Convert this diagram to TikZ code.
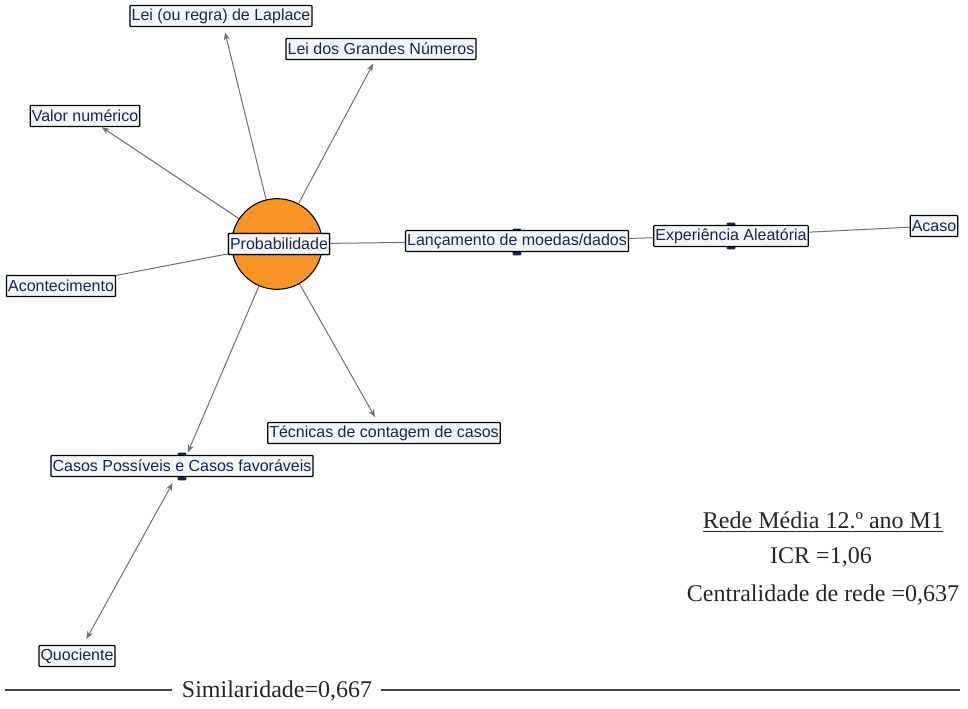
\documentclass[tikz,border=0pt]{standalone}
\usepackage{fontspec}
\setmainfont{Liberation Serif}
\newfontfamily\labelfont{Liberation Sans}
\usetikzlibrary{arrows.meta}
\definecolor{edgegray}{RGB}{112,112,112}
\definecolor{boxfill}{RGB}{242,246,246}
\definecolor{boxtext}{RGB}{28,38,70}
\definecolor{hub}{RGB}{247,148,35}
\definecolor{handle}{RGB}{25,35,60}
\definecolor{rulegray}{RGB}{70,70,70}
\begin{document}
\begin{tikzpicture}[x=0.75pt,y=-0.75pt,
  concept/.style={draw=black, line width=0.9pt, fill=boxfill, text=boxtext,
    font=\labelfont\fontsize{12}{14}\selectfont, inner xsep=1.2pt, inner ysep=0pt,
    minimum height=15.75pt, rounded corners=0.6pt},
  hubcircle/.style={circle, draw=black, line width=0.8pt, fill=hub, minimum size=68pt, inner sep=0pt},
  link/.style={draw=edgegray, line width=0.75pt},
  arr/.style={link, -{Stealth[length=6pt,width=4.5pt]}},
  biarr/.style={link, {Stealth[length=6pt,width=4.5pt]}-{Stealth[length=6pt,width=4.5pt]}},
  grip/.style={fill=handle, rounded corners=0.8pt, minimum width=6.5pt, minimum height=3.5pt, inner sep=0pt},
  stat/.style={font=\fontsize{18}{20}\selectfont, text=black!85, inner sep=0pt}
]
\useasboundingbox (0,0) rectangle (968,708);
\fill[white] (0,0) rectangle (968,708);

% central concept
\node[hubcircle] (prob) at (277,244) {};

% grips on the linking concepts (drawn under the boxes)
\node[grip] (g1) at (517,231) {};
\node[grip] (g2) at (517,253) {};
\node[grip] (g3) at (731,225) {};
\node[grip] (g4) at (731,247) {};
\node[grip] (g5) at (182,455) {};
\node[grip] (g6) at (182,478) {};

% concept boxes
\node[concept] (problabel) at (279,244) {Probabilidade};
\node[concept] (laplace) at (221,16) {Lei (ou regra) de Laplace};
\node[concept] (lgn) at (381,49) {Lei dos Grandes Números};
\node[concept] (valor) at (85,116) {Valor numérico};
\node[concept] (acont) at (61,286) {Acontecimento};
\node[concept] (lanc) at (517,241) {Lançamento de moedas/dados};
\node[concept] (exp) at (731,236) {Experiência Aleatória};
\node[concept] (acaso) at (934,226) {Acaso};
\node[concept] (tecn) at (384,433) {Técnicas de contagem de casos};
\node[concept] (casos) at (182,466) {Casos Possíveis e Casos favoráveis};
\node[concept] (quoc) at (77,656) {Quociente};

% connectors
\draw[arr, shorten >=4pt] (prob) -- (laplace);
\draw[arr, shorten >=3pt] (prob) -- (lgn);
\draw[arr] (prob) -- (valor);
\draw[arr, shorten >=4pt] (prob) -- (tecn);
\draw[arr, shorten >=2pt] (prob) -- (casos);
\draw[link] (problabel) -- (acont);
\draw[link] (problabel) -- (lanc);
\draw[link] (lanc) -- (exp);
\draw[link] (exp) -- (acaso);
\draw[biarr, shorten <=5pt, shorten >=5pt] (casos) -- (quoc);

% label box on top of the hub and its connectors
\node[concept] at (problabel) {Probabilidade};

% network statistics
\node[stat] (title) at (823,522) {\underline{Rede Média 12.º ano M1}};
\node[stat] (icr) at (821,557) {ICR =1,06};
\node[stat] (cent) at (823,595) {Centralidade de rede =0,637};
\node[stat] (simil) at (277,691) {Similaridade=0,667};
\coordinate (rl1) at (5,690);
\coordinate (rl2) at (172,690);
\coordinate (rr1) at (381,690);
\coordinate (rr2) at (960,690);
\draw[rulegray, line width=1.1pt] (rl1) -- (rl2);
\draw[rulegray, line width=1.1pt] (rr1) -- (rr2);
\end{tikzpicture}
\end{document}
